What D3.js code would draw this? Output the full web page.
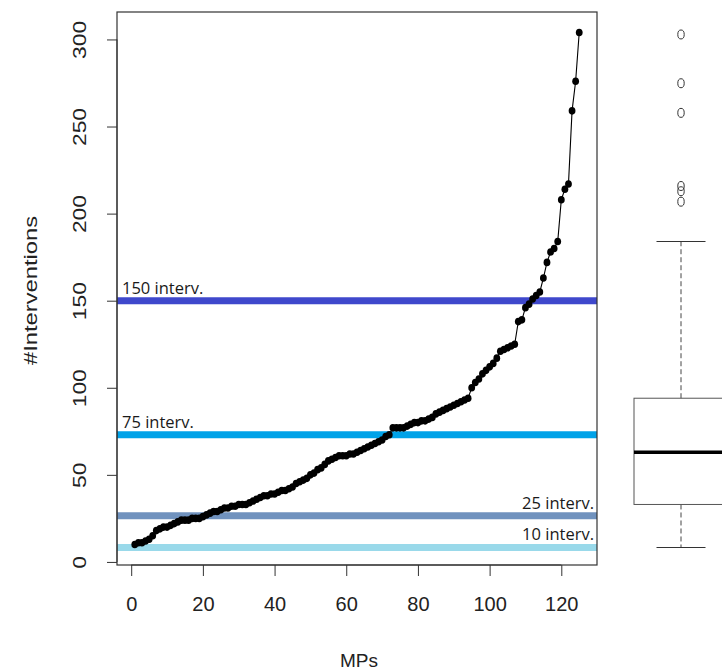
<!DOCTYPE html>
<html>
<head>
<meta charset="utf-8">
<script src="https://cdn.jsdelivr.net/npm/d3@7"></script>
<style>
html,body{margin:0;padding:0;background:#fff;}
svg{display:block;}
</style>
</head>
<body>
<svg id="chart" width="722" height="671"></svg>
<script>
// ---- data ----
const mpIndex = d3.range(1, 126);
const interventions = [
  10,11,11,12,13,15,18,19,20,20,
  21,22,23,24,24,24,25,25,25,26,
  27,28,29,29,30,31,31,32,32,33,
  33,33,34,35,36,37,38,38,39,39,
  40,41,41,42,43,45,46,47,48,50,
  51,53,54,56,58,59,60,61,61,61,
  62,62,63,64,65,66,67,68,69,70,
  72,73,77,77,77,77,78,79,80,80,
  81,81,82,83,85,86,87,88,89,90,
  91,92,93,94,100,103,105,108,110,112,
  114,117,121,122,123,124,125,138,139,146,
  148,151,153,155,163,172,178,180,184,208,
  214,217,259,276,304
];
const xTicks = [0, 20, 40, 60, 80, 100, 120];
const yTicks = [0, 50, 100, 150, 200, 250, 300];
const refLevels = [150, 73, 26.5, 8.3];
const refLabels = ["150 interv.", "75 interv.", "25 interv.", "10 interv."];
const refColors = ["#3F48CC", "#00A2E8", "#7092BE", "#99D9EA"];
const refAlign = ["left", "left", "right", "right"];

// ---- layout ----
const svg = d3.select("#chart");
const box = {l: 117, r: 597, t: 12, b: 565};

function ext(lo, hi) { const d = (hi - lo) * 0.04; return [lo - d, hi + d]; }
const x = d3.scaleLinear().domain(ext(1, interventions.length)).range([box.l, box.r]);
const y = d3.scaleLinear().domain(ext(d3.min(interventions), d3.max(interventions))).range([box.b, box.t]);

const axisFont = "'Liberation Sans', Arial, sans-serif";
const noteFont = "'Open Sans', 'Noto Sans', sans-serif";

// reference lines (under data)
const refG = svg.append("g");
refLevels.forEach((v, i) => {
  refG.append("line")
    .attr("x1", box.l).attr("x2", box.r)
    .attr("y1", y(v)).attr("y2", y(v))
    .attr("stroke", refColors[i]).attr("stroke-width", 7);
  const left = refAlign[i] === "left";
  refG.append("text")
    .attr("x", left ? box.l + 5 : box.r - 3)
    .attr("y", y(v) - 7)
    .attr("text-anchor", left ? "start" : "end")
    .attr("font-family", noteFont)
    .attr("font-size", 16.5)
    .attr("fill", "#1a1a1a")
    .text(refLabels[i]);
});

// data line + points
const pts = mpIndex.map((m, i) => [m, interventions[i]]);
svg.append("path")
  .attr("d", d3.line().x(d => x(d[0])).y(d => y(d[1]))(pts))
  .attr("fill", "none").attr("stroke", "#000").attr("stroke-width", 1.1);
svg.append("g").selectAll("ellipse").data(pts).join("ellipse")
  .attr("cx", d => x(d[0])).attr("cy", d => y(d[1]))
  .attr("rx", 3.4).attr("ry", 3.8).attr("fill", "#000");

// plot box
svg.append("rect")
  .attr("x", box.l).attr("y", box.t)
  .attr("width", box.r - box.l).attr("height", box.b - box.t)
  .attr("fill", "none").attr("stroke", "#333").attr("stroke-width", 1.2);

// axes
const xAxis = d3.axisBottom(x).tickValues(xTicks).tickSize(11).tickPadding(21).tickFormat(d3.format("d"));
const gx = svg.append("g").attr("transform", `translate(0,${box.b})`).call(xAxis);
gx.select(".domain").attr("d", `M${x(xTicks[0])},0H${x(xTicks[xTicks.length-1])}`).attr("stroke", "#333");
gx.selectAll(".tick line").attr("stroke", "#333");
gx.selectAll("text").attr("font-family", axisFont).attr("font-size", 20).attr("fill", "#222");

const yAxis = d3.axisLeft(y).tickValues(yTicks).tickSize(10).tickFormat(d3.format("d"));
const gy = svg.append("g").attr("transform", `translate(${box.l},0)`).call(yAxis);
gy.select(".domain").attr("d", `M0,${y(yTicks[0])}V${y(yTicks[yTicks.length-1])}`).attr("stroke", "#333");
gy.selectAll(".tick line").attr("stroke", "#333");
gy.selectAll("text")
  .attr("font-family", axisFont).attr("font-size", 19).attr("fill", "#222")
  .attr("x", null)
  .attr("text-anchor", "middle")
  .attr("transform", "translate(-38,0) rotate(-90) scale(1.2,1)")
  .attr("dy", "0.35em");

svg.append("text")
  .attr("x", (box.l + box.r) / 2 + 2).attr("y", 667)
  .attr("text-anchor", "middle")
  .attr("font-family", axisFont).attr("font-size", 19).attr("fill", "#222")
  .text("MPs");
svg.append("text")
  .attr("transform", `translate(37,${(box.t + box.b) / 2 + 2}) rotate(-90) scale(1.25,1)`)
  .attr("text-anchor", "middle")
  .attr("font-family", axisFont).attr("font-size", 19).attr("fill", "#222")
  .text("#Interventions");

// ---- boxplot panel (R fivenum hinges) ----
const sorted = interventions.slice().sort((a, b) => a - b);
const n = sorted.length;
const n4 = Math.floor((n + 3) / 2) / 2;
const idx = [1, n4, (n + 1) / 2, n + 1 - n4, n];
const fiveNum = idx.map(k => 0.5 * (sorted[Math.floor(k) - 1] + sorted[Math.ceil(k) - 1]));
const [mn, q1, med, q3, mx] = fiveNum;
const iqr = q3 - q1;
const hiLim = q3 + 1.5 * iqr, loLim = q1 - 1.5 * iqr;
const inside = sorted.filter(v => v >= loLim && v <= hiLim);
const wLo = d3.min(inside), wHi = d3.max(inside);
const outliers = sorted.filter(v => v < loLim || v > hiLim);

const cx = 681, halfBox = 47, halfCap = 24.5;
const bg = svg.append("g");
// whiskers
bg.append("line").attr("x1", cx).attr("x2", cx).attr("y1", y(q3)).attr("y2", y(wHi))
  .attr("stroke", "#444").attr("stroke-dasharray", "5,3");
bg.append("line").attr("x1", cx).attr("x2", cx).attr("y1", y(q1)).attr("y2", y(wLo) + 3)
  .attr("stroke", "#444").attr("stroke-dasharray", "5,3");
// caps
bg.append("line")
  .attr("x1", cx - halfCap).attr("x2", cx + halfCap).attr("y1", y(wHi)).attr("y2", y(wHi))
  .attr("stroke", "#333").attr("stroke-width", 1.2);
bg.append("line")
  .attr("x1", cx - halfCap).attr("x2", cx + halfCap).attr("y1", y(wLo) + 3).attr("y2", y(wLo) + 3)
  .attr("stroke", "#333").attr("stroke-width", 1.2);
// box
bg.append("rect").attr("x", cx - halfBox).attr("y", y(q3))
  .attr("width", 2 * halfBox).attr("height", y(q1) - y(q3))
  .attr("fill", "none").attr("stroke", "#555").attr("stroke-width", 1);
// median
bg.append("line").attr("x1", cx - halfBox).attr("x2", cx + halfBox)
  .attr("y1", y(med)).attr("y2", y(med))
  .attr("stroke", "#000").attr("stroke-width", 3.5);
// outliers
bg.selectAll("ellipse").data(outliers).join("ellipse")
  .attr("cx", cx).attr("cy", d => y(d) + 2).attr("rx", 3.2).attr("ry", 4.5)
  .attr("fill", "none").attr("stroke", "#333").attr("stroke-width", 1);
</script>
</body>
</html>
